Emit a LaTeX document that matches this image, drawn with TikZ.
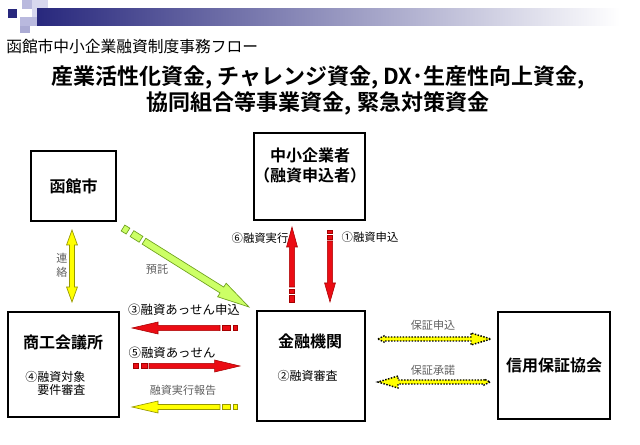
\documentclass[tikz,border=0pt]{standalone}
\usepackage{fontspec}
\setmainfont{Noto Sans CJK JP}[BoldFont={Noto Sans CJK JP Bold}]
\usetikzlibrary{calc}

\definecolor{navy}{RGB}{40,40,125}
\definecolor{lavender}{RGB}{185,185,222}
\definecolor{palelav}{RGB}{215,215,238}
\definecolor{arrowred}{RGB}{235,12,20}
\definecolor{darkred}{RGB}{165,0,0}
\definecolor{arrowyellow}{RGB}{255,255,0}
\definecolor{darkyellow}{RGB}{150,150,0}
\definecolor{arrowgreen}{RGB}{204,255,102}
\definecolor{darkgreen}{RGB}{110,160,30}
\definecolor{labelgray}{RGB}{95,95,95}

% block arrow: [style]{tail}{tip}{shaft half}{tail head half}{tail head length}{tip head half}{tip head length}
\newcommand{\fatarrow}[8][]{%
  \coordinate (fa-ba) at ($(#2)!#6!(#3)$);
  \coordinate (fa-bb) at ($(#3)!#8!(#2)$);
  \filldraw[#1] (#2) -- ($(fa-ba)!#5!90:(#3)$) -- ($(fa-ba)!#4!90:(#3)$)
    -- ($(fa-bb)!#4!90:(#3)$) -- ($(fa-bb)!#7!90:(#3)$) -- (#3)
    -- ($(fa-bb)!#7!-90:(#3)$) -- ($(fa-bb)!#4!-90:(#3)$)
    -- ($(fa-ba)!#4!-90:(#3)$) -- ($(fa-ba)!#5!-90:(#3)$) -- cycle;
}
% small piece of a broken tail: [style]{from}{to}{half width}
\newcommand{\fatbar}[4][]{%
  \filldraw[#1] ($(#2)!#4!90:(#3)$) -- ($(#3)!#4!-90:(#2)$)
    -- ($(#3)!#4!90:(#2)$) -- ($(#2)!#4!-90:(#3)$) -- cycle;
}

\begin{document}
\begin{tikzpicture}[x=0.75pt, y=-0.75pt,
  office/.style={draw, line width=1.4pt, inner sep=0pt},
  boxtitle/.style={font=\fontsize{12}{15}\selectfont\bfseries, align=center},
  subtext/.style={font=\fontsize{9}{9.75}\selectfont},
  steptext/.style={font=\fontsize{8.5}{10}\selectfont},
  bigstep/.style={font=\fontsize{9.3}{11}\selectfont},
  graytext/.style={font=\fontsize{8.3}{10.5}\selectfont, text=labelgray},
  redarrow/.style={fill=arrowred, draw=darkred, line width=0.4pt},
  yellowarrow/.style={fill=arrowyellow, draw=darkyellow, line width=0.5pt},
  greenarrow/.style={fill=arrowgreen, draw=darkgreen, line width=0.5pt},
  dotarrow/.style={fill=arrowyellow, draw=black, line width=1.1pt, dash pattern=on 1.1pt off 1.1pt}]
\useasboundingbox (0,0) rectangle (640,445);

% header band
\fill[palelav] (32,0) rectangle (48,17);
\fill[lavender] (22,0) rectangle (32,9);
\fill[lavender] (20,17) rectangle (37,26);
\fill[lavender!90!navy] (20,26) rectangle (30,33);
\fill[navy] (8,9) rectangle (17,18);
\shade[left color=navy, middle color=navy!45, right color=white] (37,9) rectangle (620,26);

\node[anchor=west, font=\fontsize{11.8}{14}\selectfont, inner sep=0pt] (caption) at (6,47) {函館市中小企業融資制度事務フロー};
\node[align=center, font=\fontsize{16.5}{19.5}\selectfont\bfseries] (heading) at (318,90)
  {産業活性化資金, チャレンジ資金, DX･生産性向上資金,\\協同組合等事業資金, 緊急対策資金};

% offices
\node[office, minimum width=63.75pt, minimum height=52.5pt, boxtitle] (city) at (73.5,186) {函館市};
\node[office, minimum width=83.25pt, minimum height=65.25pt] (firm) at (309.5,176.5) {};
\node[boxtitle] (firmname) at (310,165) {中小企業者\\（融資申込者）};
\node[office, minimum width=83.25pt, minimum height=78.75pt] (chamber) at (63.5,364.5) {};
\node[boxtitle] (chambername) at (63,342) {商工会議所};
\node[subtext, align=right, anchor=east] (chambercheck) at (90,383.5) {④融資対象\\要件審査};
\node[office, minimum width=81pt, minimum height=82.5pt] (bank) at (311,366) {};
\node[boxtitle] (bankname) at (310,341) {金融機関};
\node[subtext] (bankcheck) at (307.5,376) {②融資審査};
\node[office, minimum width=84pt, minimum height=80.25pt, boxtitle] (guarantee) at (554,365.5) {信用保証協会};

% arrow end points
\coordinate (linkA) at (72,230);
\coordinate (linkB) at (72,302);
\coordinate (depTail) at (144,241.2);
\coordinate (depTip) at (249,307);
\coordinate (execTail) at (292,287);
\coordinate (execTip) at (292,227);
\coordinate (applyTail) at (330,241);
\coordinate (applyTip) at (330,302);
\coordinate (mediateTail) at (220,328);
\coordinate (mediateTip) at (132,328);
\coordinate (arrangeTail) at (149,366);
\coordinate (arrangeTip) at (240,366);
\coordinate (reportTail) at (220,407);
\coordinate (reportTip) at (132,407);
\coordinate (gapplyTail) at (378,339);
\coordinate (gapplyTip) at (491,339);
\coordinate (gokTail) at (490,382);
\coordinate (gokTip) at (378,382);

% arrows
\fatarrow[yellowarrow]{linkA}{linkB}{1.9pt}{4.1pt}{11.25pt}{4.1pt}{11.25pt}
\fatarrow[greenarrow]{depTail}{depTip}{2.6pt}{2.6pt}{0pt}{6pt}{24pt}
\fatbar[greenarrow]{123,228}{128,231.1}{2.6pt}
\fatbar[greenarrow]{132,233.6}{141,239.3}{2.6pt}
\fatarrow[redarrow]{execTail}{execTip}{1.9pt}{1.9pt}{0pt}{4.1pt}{15pt}
\fatbar[redarrow]{292,289.5}{292,293}{1.9pt}
\fatbar[redarrow]{292,295}{292,302}{1.9pt}
\fatarrow[redarrow]{applyTail}{applyTip}{1.9pt}{1.9pt}{0pt}{4.1pt}{14.25pt}
\fatbar[redarrow]{330,230}{330,233}{1.9pt}
\fatbar[redarrow]{330,235}{330,239}{1.9pt}
\fatarrow[redarrow]{mediateTail}{mediateTip}{1.9pt}{1.9pt}{0pt}{4.5pt}{19.5pt}
\fatbar[redarrow]{222,328}{230,328}{1.9pt}
\fatbar[redarrow]{233,328}{237,328}{1.9pt}
\fatarrow[redarrow]{arrangeTail}{arrangeTip}{1.9pt}{1.9pt}{0pt}{4.5pt}{19pt}
\fatbar[redarrow]{133,366}{138,366}{1.9pt}
\fatbar[redarrow]{141,366}{147,366}{1.9pt}
\fatarrow[yellowarrow]{reportTail}{reportTip}{1.9pt}{1.9pt}{0pt}{4.5pt}{19.5pt}
\fatbar[yellowarrow]{222,407}{230,407}{1.9pt}
\fatbar[yellowarrow]{233,407}{237,407}{1.9pt}
\fatarrow[dotarrow]{gapplyTail}{gapplyTip}{1.5pt}{2.25pt}{4.5pt}{4.5pt}{15pt}
\fatarrow[dotarrow]{gokTail}{gokTip}{1.5pt}{2.25pt}{4.5pt}{4.5pt}{15pt}

% arrow labels
\node[graytext, align=center] (linklabel) at (62,265) {連\\絡};
\node[graytext] (deplabel) at (157,269) {預託};
\node[steptext] (execlabel) at (260,238) {⑥融資実行};
\node[steptext] (applylabel) at (370,237) {①融資申込};
\node[bigstep] (mediatelabel) at (184,310) {③融資あっせん申込};
\node[bigstep] (arrangelabel) at (172,353) {⑤融資あっせん};
\node[graytext] (reportlabel) at (183,390) {融資実行報告};
\node[graytext] (gapplylabel) at (433,325) {保証申込};
\node[graytext] (goklabel) at (433,370) {保証承諾};
\end{tikzpicture}
\end{document}
